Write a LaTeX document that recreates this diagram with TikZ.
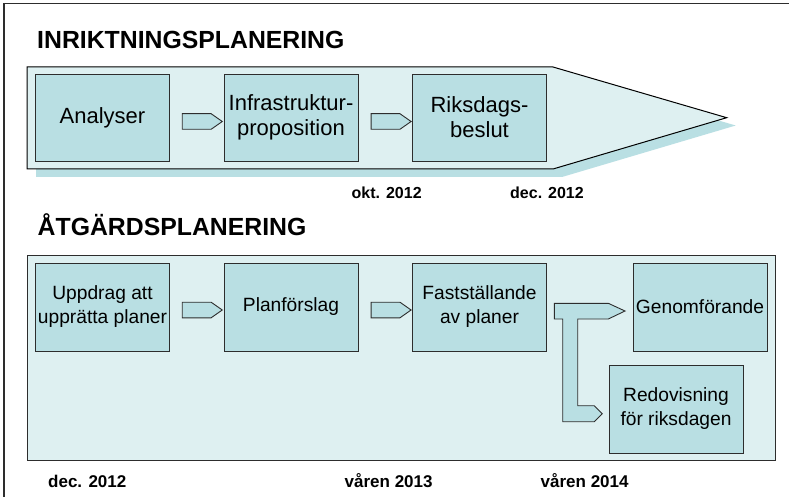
\documentclass[tikz,border=0pt]{standalone}
\usepackage{fontspec}
\setmainfont{Liberation Sans}
\usetikzlibrary{shapes.arrows}
\definecolor{bandfill}{RGB}{222,240,241}
\definecolor{boxfill}{RGB}{185,223,227}
\definecolor{edge}{RGB}{45,45,45}
\begin{document}
\begin{tikzpicture}[x=1pt,y=-1pt,
  box/.style={draw=edge, line width=0.9pt, fill=boxfill, inner sep=1pt, align=center, text=black},
  topbox/.style={box, minimum width=134pt, minimum height=87pt, font=\fontsize{22}{25}\selectfont},
  botbox/.style={box, minimum width=134pt, minimum height=88pt, font=\fontsize{19.2}{24}\selectfont},
  blockarrow/.style={single arrow, draw=edge, line width=0.9pt, fill=boxfill, single arrow head extend=0pt, single arrow tip angle=70, inner sep=0pt, minimum height=40pt, minimum width=15.6pt},
  title/.style={font=\fontsize{24.8}{28}\selectfont\bfseries, anchor=base west, inner sep=0pt},
  topdate/.style={font=\fontsize{16}{18}\selectfont\bfseries, anchor=base west, inner sep=0pt},
  botdate/.style={font=\fontsize{17}{19}\selectfont\bfseries, anchor=base west, inner sep=0pt},
]
\fill[white] (0,0) rectangle (789,497);
\useasboundingbox (0,0) rectangle (789,497);
% outer frame
\draw[line width=1.2pt, edge] (4,497) -- (4,3.5) -- (789,3.5);

% titles
\node[title] (t1) at (37,48.7) {INRIKTNINGSPLANERING};
\node[title] (t2) at (37.5,235) {ÅTGÄRDSPLANERING};

% top band with shadow
\fill[boxfill] (36,75) -- (562,75) -- (735.7,125.5) -- (562,177) -- (36,177) -- cycle;
\draw[black, line width=1pt, fill=bandfill] (27,67) -- (553,67) -- (726.7,117.7) -- (553,169) -- (27,169) -- cycle;

\node[topbox] (analyser) at (102.5,117.5) {Analyser};
\node[topbox] (infra) at (291,117.5) {Infrastruktur-\\proposition};
\node[topbox] (riksdag) at (479.5,117.5) {Riksdags-\\beslut};
\node[blockarrow] (a1) at (196.7,121.5) {};
\node[blockarrow] (a2) at (385.5,121.5) {};

\node[topdate] (d1) at (351.5,198) {okt. 2012};
\node[topdate] (d2) at (510,198) {dec. 2012};

% bottom band
\draw[edge, line width=1pt, fill=bandfill] (27,255) rectangle (775,460.5);

\node[botbox] (uppdrag) at (102.5,307) {Uppdrag att\\upprätta planer};
\node[botbox] (plan) at (291,307) {Planförslag};
\node[botbox] (fast) at (479.5,307) {Fastställande\\av planer};
\node[botbox] (genom) at (700,307) {Genomförande};
\node[botbox] (redov) at (676,409) {Redovisning\\för riksdagen};
\node[blockarrow] (b1) at (196.7,310) {};
\node[blockarrow] (b2) at (385.5,310) {};

% branching arrow
\draw[edge, line width=0.9pt, fill=boxfill, line join=miter]
  (554.3,303.3) -- (608.3,303.3) -- (625,311) -- (608.3,319) -- (577.7,319)
  -- (577.7,405.7) -- (594.3,405.7) -- (602.3,413.7) -- (594.3,421.7)
  -- (562.7,421.7) -- (562.7,319) -- (554.3,319) -- cycle;

\node[botdate] (d3) at (48,487) {dec. 2012};
\node[botdate] (d4) at (344.5,487) {våren 2013};
\node[botdate] (d5) at (540.5,487) {våren 2014};
\end{tikzpicture}
\end{document}
